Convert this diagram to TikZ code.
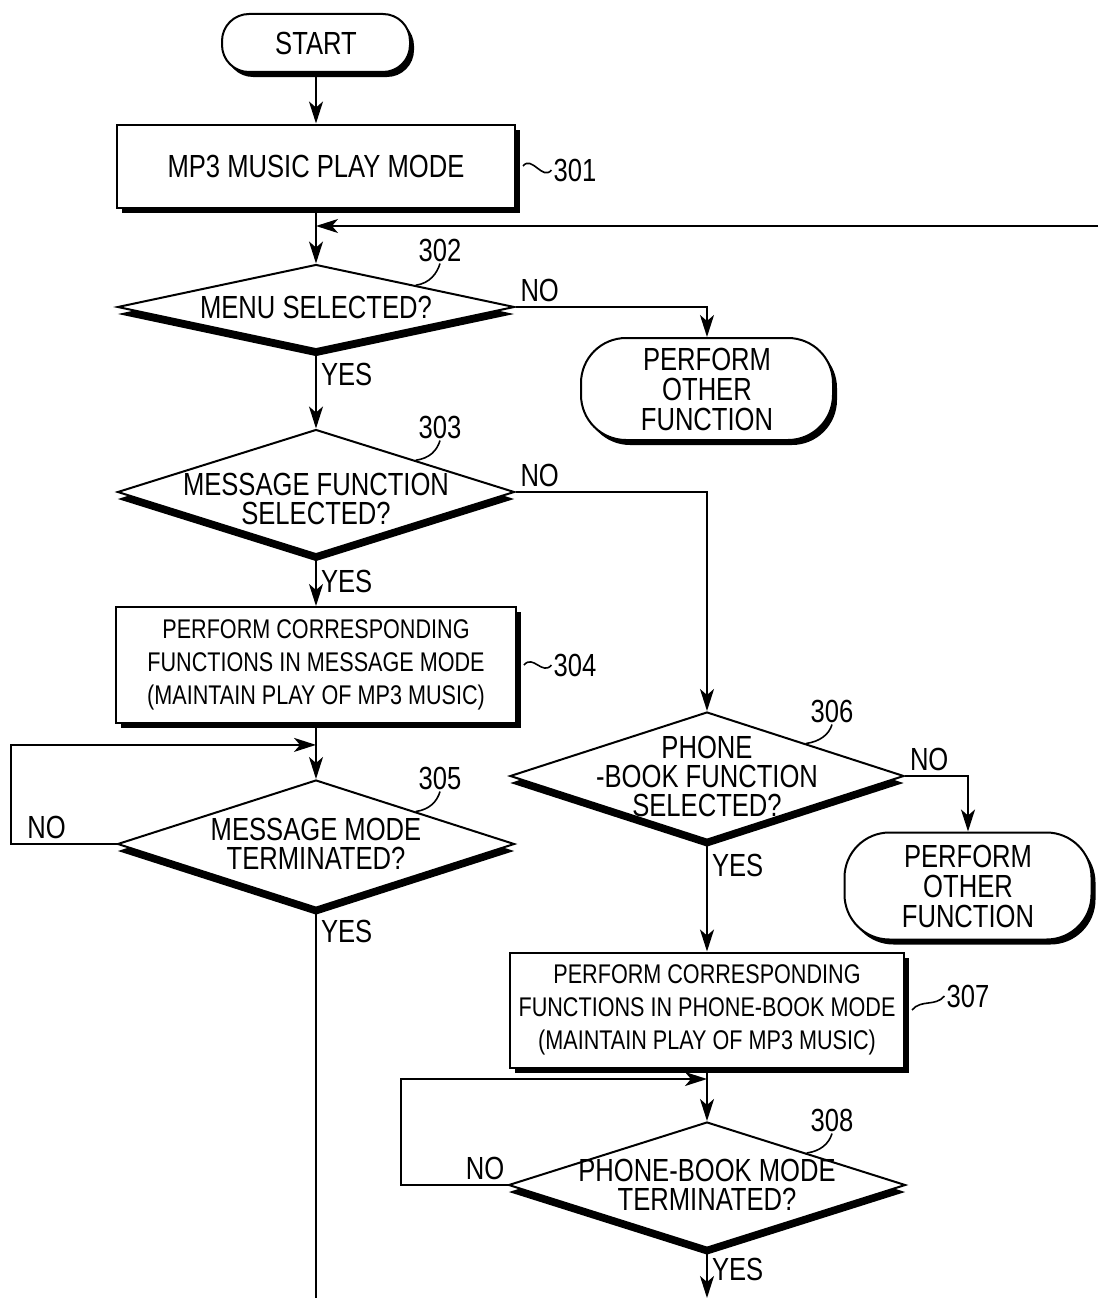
\documentclass[tikz,border=0pt]{standalone}
\usepackage{fontspec}
\setmainfont{Liberation Sans}[FakeStretch=0.8]
\usetikzlibrary{arrows.meta,positioning,calc,shapes.geometric,shadows}
\newcommand{\fsz}[2]{\fontsize{#1}{#2}\selectfont}
\tikzset{
  >={Stealth[length=22pt,width=14pt,inset=6pt]},
  shd/.style 2 args={drop shadow={shadow xshift=#1,shadow yshift=#2,fill=black,opacity=1}},
  term/.style={draw,fill=white,line width=2pt,align=center,inner sep=0pt,
               font=\fsz{32}{30},shd={4pt}{-5pt}},         % start / end terminal
  proc/.style={draw,fill=white,line width=2pt,align=center,inner sep=0pt,
               font=\fsz{27}{33},shd={5pt}{-5pt}},         % process box
  decis/.style={draw,fill=white,diamond,aspect=3.5,line width=2pt,align=center,
                inner xsep=-60pt,inner ysep=-10pt,font=\fsz{32}{29},shd={0pt}{-7pt}}, % decision
  refno/.style={font=\fsz{32}{32},inner sep=2pt},          % step number
  yn/.style={font=\fsz{32}{32},inner sep=4pt},             % YES / NO
  flow/.style={->,line width=2pt},
  lead/.style={line width=1.6pt},
}

\begin{document}
\begin{tikzpicture}[x=1pt,y=-1pt]
  \useasboundingbox (0,0) rectangle (1098,1298);
  % left column
  \node[term,minimum width=188pt,minimum height=58pt,rounded corners=27pt] (start) at (316,43) {START};
  \node[proc,minimum width=398pt,minimum height=83pt,font=\fsz{32}{32}] (b301) at (316,166) {MP3 MUSIC PLAY MODE};
  \node[decis,minimum width=397pt,minimum height=85pt]  (d302) at (316,307) {MENU SELECTED?};
  \node[decis,minimum width=397pt,minimum height=125pt] (d303) at (316,492) {\rule{0pt}{36pt}MESSAGE FUNCTION\\SELECTED?};
  \node[proc,minimum width=400pt,minimum height=116pt] (b304) at (316,665)
       {PERFORM CORRESPONDING\\FUNCTIONS IN MESSAGE MODE\\(MAINTAIN PLAY OF MP3 MUSIC)};
  \node[decis,minimum width=397pt,minimum height=128pt] (d305) at (316,844) {MESSAGE MODE\\TERMINATED?};

  % right column
  \node[term,minimum width=252pt,minimum height=102pt,rounded corners=45pt] (t302) at (707,389) {PERFORM\\OTHER\\FUNCTION};
  \node[decis,minimum width=394pt,minimum height=128pt] (d306) at (707,776) {PHONE\\-BOOK FUNCTION\\SELECTED?};
  \node[term,minimum width=247pt,minimum height=107pt,rounded corners=45pt] (t306) at (968,886) {PERFORM\\OTHER\\FUNCTION};
  \node[proc,minimum width=394pt,minimum height=115pt] (b307) at (707,1010)
       {PERFORM CORRESPONDING\\FUNCTIONS IN PHONE-BOOK MODE\\(MAINTAIN PLAY OF MP3 MUSIC)};
  \node[decis,minimum width=397pt,minimum height=126pt] (d308) at (707,1185) {PHONE-BOOK MODE\\TERMINATED?};

  % step numbers and their leaders
  \node[refno] (n301) at (575,170)  {301};
  \node[refno] (n302) at (440,250)  {302};
  \node[refno] (n303) at (440,427)  {303};
  \node[refno] (n304) at (575,665)  {304};
  \node[refno] (n305) at (440,778)  {305};
  \node[refno] (n306) at (832,711)  {306};
  \node[refno] (n307) at (968,996)  {307};
  \node[refno] (n308) at (832,1120) {308};
  \foreach \bx in {301,304,307}
    \draw[lead] ([xshift=7pt]b\bx.east) .. controls +(9,-11) and +(-9,11) .. (n\bx.west);
  \foreach \dd in {302,303,305,306,308}
    \draw[lead] (d\dd.north east) .. controls +(14,-2) and +(-3,10) .. (n\dd.south);

  % connectors
  \draw[flow] (start) -- (b301);
  \draw[flow] (b301) -- (d302);
  \coordinate (back) at (1098,226);
  \draw[flow] (back) -- (back -| b301.south);
  \draw[flow] (d302.east) -| (t302) node[yn,pos=0,anchor=south west] {NO};
  \draw[flow] (d302) -- (d303) node[yn,pos=0,anchor=north west,yshift=-8pt] {YES};
  \draw[flow] (d303.east) -| (d306) node[yn,pos=0,anchor=south west] {NO};
  \draw[flow] (d303) -- (b304) node[yn,pos=0,anchor=north west,yshift=-10pt] {YES};
  \draw[flow] (b304) -- (d305);
  \coordinate (j305) at ($(b304.south)!0.38!(d305.north)$);
  \draw[flow] (d305.west) -- node[yn,pos=0.66,above] {NO} ++(-106,0) |- (j305);
  \coordinate (end305) at (316,1298);
  \draw[line width=2pt] (d305) -- (end305) node[yn,pos=0,anchor=north west,yshift=-6pt] {YES};

  \draw[flow] (d306.east) -| (t306) node[yn,pos=0,anchor=south west] {NO};
  \draw[flow] (d306) -- (b307) node[yn,pos=0,anchor=north west,yshift=-8pt] {YES};
  \draw[flow] (b307) -- (d308);
  \coordinate (j308) at ($(b307.south)!0.2!(d308.north)$);
  \draw[flow] (d308.west) -- node[yn,pos=0.21,above] {NO} ++(-107,0) |- (j308);
  \coordinate (end308) at (707,1298);
  \draw[flow] (d308) -- (end308) node[yn,pos=0,anchor=north west,yshift=-4pt] {YES};
\end{tikzpicture}
\end{document}
